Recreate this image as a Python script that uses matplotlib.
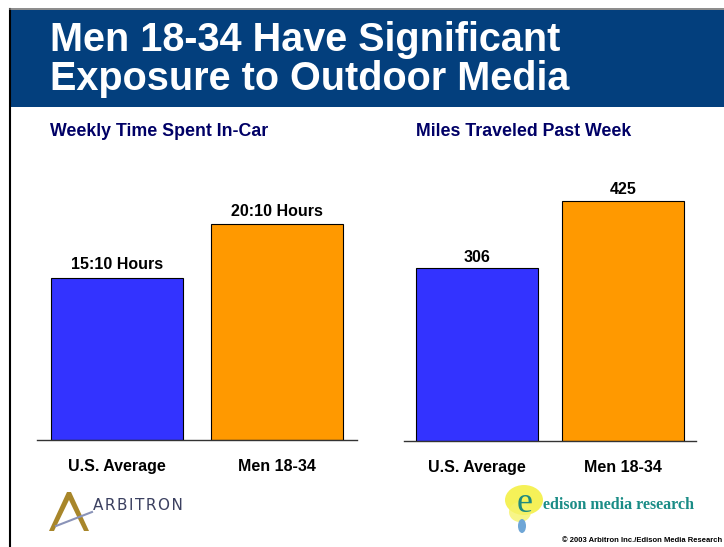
"""
Men 18-34 outdoor media exposure slide, redrawn with matplotlib
"""

import matplotlib
matplotlib.use('Agg')
import matplotlib.pyplot as plt
from matplotlib.patches import Rectangle, Polygon, Ellipse
from matplotlib.lines import Line2D

plt.rcParams['font.family'] = ['Liberation Sans', 'DejaVu Sans']

W, H = 724, 547

# data
categories = ['U.S. Average', 'Men 18-34']
bar_colors = ['#3333FF', '#FF9900']
time_values = [15 + 10 / 60, 20 + 10 / 60]      # hours per week in-car
time_labels = ['15:10 Hours', '20:10 Hours']
miles_values = [306, 425]                        # miles traveled past week
miles_labels = ['306', '425']

title_lines = ['Men 18-34 Have Significant', 'Exposure to Outdoor Media']
left_title = 'Weekly Time Spent In-Car'
right_title = 'Miles Traveled Past Week'
copyright_text = '\u00a9 2003 Arbitron Inc./Edison Media Research'


def fx(x):
    return x / W


def fy(y):
    return 1 - y / H


def px_axes(fig, x0, y_top, x1, y_bottom):
    """add axes using pixel coords (top-left origin)"""
    return fig.add_axes([fx(x0), fy(y_bottom), (x1 - x0) / W, (y_bottom - y_top) / H])


def bar_panel(ax, values, labels, ymax, offset):
    xs = range(len(values))
    bars = ax.bar(xs, values, width=0.83, color=bar_colors,
                  edgecolor='black', linewidth=0.8, zorder=2)
    for b, lab in zip(bars, labels):
        ax.annotate(lab, (b.get_x() + b.get_width() / 2, b.get_height()),
                    xytext=(0, offset), textcoords='offset points',
                    ha='center', va='bottom', fontsize=11.5, fontweight='bold')
    ax.set_xlim(-0.5, 1.5)
    ax.set_ylim(0, ymax)
    ax.set_xticks(list(xs))
    ax.set_xticklabels(categories, fontsize=11.5, fontweight='bold')
    ax.tick_params(axis='x', length=0, pad=14)
    ax.set_yticks([])
    for s in ['top', 'left', 'right']:
        ax.spines[s].set_visible(False)
    ax.spines['bottom'].set_color('#333333')
    ax.spines['bottom'].set_linewidth(1.0)
    ax.patch.set_alpha(0)


fig = plt.figure(figsize=(W / 100, H / 100), dpi=100)
fig.patch.set_facecolor('white')

# slide frame + title banner
fig.add_artist(Line2D([fx(10), fx(10)], [fy(9), 0], color='black', lw=1.5))
fig.add_artist(Line2D([fx(10), 1], [fy(9), fy(9)], color='#777777', lw=1.2))
fig.add_artist(Rectangle((fx(11), fy(107)), 1 - fx(11), (107 - 10) / H,
                         facecolor='#033F7D', edgecolor='none'))
fig.text(fx(50), fy(40), title_lines[0], color='white', fontsize=28.5,
         fontweight='bold', va='center', ha='left')
fig.text(fx(50), fy(79), title_lines[1], color='white', fontsize=28.5,
         fontweight='bold', va='center', ha='left')

# sub titles
fig.text(fx(50), fy(131), left_title, color='#000066', fontsize=12.8,
         fontweight='bold', va='center')
fig.text(fx(416), fy(131), right_title, color='#000066', fontsize=12.8,
         fontweight='bold', va='center')

# the two bar panels
ax1 = px_axes(fig, 37, 150, 357, 440)
bar_panel(ax1, time_values, time_labels, 290 / 10.7, 4)

ax2 = px_axes(fig, 404, 150, 696, 441)
bar_panel(ax2, miles_values, miles_labels, 291 / 0.565, 2.5)

# Arbitron logo (rough)
fig.add_artist(Polygon([[fx(49), fy(531)], [fx(67), fy(492)], [fx(71), fy(492)],
                        [fx(89), fy(531)], [fx(84), fy(531)], [fx(69), fy(500)],
                        [fx(54), fy(531)]],
                       closed=True, facecolor='#A8862A', edgecolor='none'))
fig.add_artist(Line2D([fx(56), fx(92)], [fy(526), fy(512)], color='#8A93B8', lw=1.5))
fig.text(fx(93), fy(505), '\u200a'.join('ARBITRON'), color='#3B4060', fontsize=11,
         va='center', ha='left', fontfamily='DejaVu Sans')

# Edison logo (rough)
fig.add_artist(Ellipse((fx(524), fy(500)), 38 / W, 30 / H,
                       facecolor='#F4F046', edgecolor='none', alpha=0.9))
fig.add_artist(Ellipse((fx(520), fy(512)), 22 / W, 20 / H,
                       facecolor='#F6F36A', edgecolor='none', alpha=0.8))
fig.add_artist(Ellipse((fx(522), fy(526)), 8 / W, 14 / H,
                       facecolor='#6FA6D6', edgecolor='none'))
fig.text(fx(525), fy(503), 'e', color='#1F8A7F', fontsize=26, va='center',
         ha='center', fontfamily='Liberation Serif')
fig.text(fx(543), fy(505), 'edison media research', color='#1A8C86',
         fontsize=11.5, fontweight='bold', va='center', ha='left',
         fontfamily='Liberation Serif')

fig.text(fx(722), fy(541), copyright_text, fontsize=5.5, fontweight='bold',
         va='center', ha='right')

fig.savefig('out.png', dpi=100)
